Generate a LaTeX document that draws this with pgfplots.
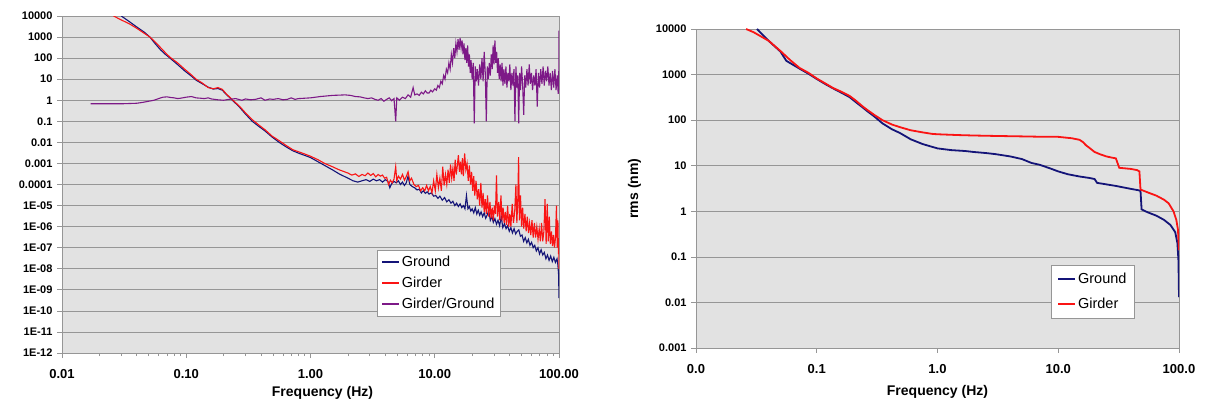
\documentclass[border=0pt]{standalone}
\usepackage{pgfplots}
\pgfplotsset{compat=1.18}
\usepackage{fontspec}
\setmainfont{Liberation Sans}
\definecolor{bgray}{RGB}{226,226,226}
\definecolor{gline}{RGB}{150,150,150}
\definecolor{navyc}{RGB}{20,20,120}
\definecolor{redc}{RGB}{250,20,20}
\definecolor{purc}{RGB}{125,25,135}
\begin{document}
\begin{tikzpicture}[x=1pt,y=1pt]
\useasboundingbox (0,0) rectangle (1205,-403);
%%%%%%%%%%%% LEFT
\begin{axis}[
  xmode=log, ymode=log, scale only axis,
  axis background/.style={fill=bgray},
  axis line style={gline, line width=0.8pt},
  ymajorgrids, grid style={gline, line width=0.7pt},
  tick align=outside, major tick length=5pt, minor tick length=3pt,
  xtick pos=left, ytick pos=left,
  tick style={gline, line width=0.7pt},
  xticklabel style={font=\bfseries\fontsize{13}{14}\selectfont, yshift=-8pt},
  yticklabel style={font=\bfseries\fontsize{11}{12}\selectfont, xshift=-1pt},
  xlabel style={font=\bfseries\fontsize{14}{15}\selectfont, yshift=-1pt, xshift=12pt},
  legend cell align=left,
  legend style={draw=gline, fill=white, font=\fontsize{14.5}{16}\selectfont, inner sep=4pt,
    at={(rel axis cs:0.634,0.306)}, anchor=north west, row sep=5pt},
  legend image post style={line width=1.5pt},
  at={(62pt,-16pt)}, anchor=north west, width=497pt, height=337pt,
  xmin=0.01, xmax=100, ymin=1e-12, ymax=1e4,
  xtick={0.01,0.1,1,10,100}, xticklabels={0.01,0.10,1.00,10.00,100.00},
  ytick={1e4,1e3,1e2,1e1,1,1e-1,1e-2,1e-3,1e-4,1e-5,1e-6,1e-7,1e-8,1e-9,1e-10,1e-11,1e-12},
  yticklabels={10000,1000,100,10,1,0.1,0.01,0.001,0.0001,1E-05,1E-06,1E-07,1E-08,1E-09,1E-10,1E-11,1E-12},
  yminorticks=false,
  xlabel={Frequency (Hz)},
]
\addplot[navyc, line width=1.1pt] coordinates {
(0.030,10000) (0.034,6000) (0.040,3000) (0.046,1700) (0.051,1000) (0.056,500) (0.062,250) (0.068,150) (0.074,100)
(0.085,50) (0.097,25) (0.11,14) (0.12,9) (0.135,6) (0.15,4.2) (0.165,3.4) (0.18,3.6) (0.195,3.0) (0.21,1.9)
(0.24,0.9) (0.27,0.45) (0.30,0.22) (0.34,0.1) (0.38,0.06) (0.43,0.035) (0.49,0.018) (0.56,0.01) (0.64,0.006)
(0.72,0.004) (0.81,0.003) (0.90,0.0024) (1.0,0.0019) (1.15,0.0012) (1.3,0.0008) (1.5,0.0005) (1.7,0.00032)
(2.0,2e-4) (2.2,1.5e-4) (2.4,1.3e-4) (2.6,1.5e-4) (2.8,1.7e-4) (3.0,1.4e-4) (3.2,1.8e-4) (3.4,1.5e-4) (3.6,1.7e-4)
(3.8,1.3e-4) (4.0,1.7e-4) (4.2,1.4e-4) (4.35,7e-5) (4.5,1.1e-4) (4.7,1.4e-4) (4.9,1.2e-4) (5.1,1.5e-4) (5.3,1e-4)
(5.5,1.3e-4) (5.7,9e-5) (5.9,1.2e-4) (6.1,2.5e-4) (6.3,1e-4) (6.6,8e-5) (6.9,7e-5) (7.2,5.5e-5) (7.5,6e-5)
(7.8,4e-5) (8.1,5e-5) (8.4,3.8e-5) (8.7,4.5e-5) (9.0,3.5e-5) (9.4,4e-5) (9.8,2.8e-5) (10.2,3e-5) (10.6,2.2e-5)
(11.0,2.8e-5) (11.5,1.8e-5) (12.0,2.4e-5) (12.5,1.5e-5) (13.0,1.9e-5) (13.5,1.3e-5) (14.0,1.6e-5) (14.5,1e-5)
(15.0,1.3e-5) (15.5,9e-6) (16.0,1.2e-5) (16.5,8e-6) (17.0,1e-5) (17.5,7e-6) (18.0,3e-5) (18.5,7e-6) (19.0,9e-6)
(19.5,5.5e-6) (20.0,7e-6) (20.6,4.5e-6) (21.2,8e-6) (21.8,4e-6) (22.4,6e-6) (23.0,3.5e-6) (23.6,5e-6) (24.3,3e-6)
(25.0,4.5e-6) (25.7,2.5e-6) (26.4,3.5e-6) (27.2,6e-6) (28.0,2e-6) (28.8,3e-6) (29.6,1.6e-6) (30.5,2.4e-6)
(31.4,1.3e-6) (32.3,2e-6) (33.3,1.1e-6) (34.3,3e-6) (35.3,9e-7) (36.4,1.4e-6) (37.5,8e-7) (38.6,1.1e-6)
(39.8,6e-7) (41.0,9e-7) (42.2,5e-7) (43.5,8e-7) (44.8,4.5e-7) (46.1,6e-7) (47.5,7e-7) (48.9,3.5e-7) (50.4,4e-7)
(51.9,2e-7) (53.5,3e-7) (55.1,1.7e-7) (56.7,2.5e-7) (58.4,1.3e-7) (60.2,1.8e-7) (62.0,1e-7) (63.8,1.3e-7)
(65.7,7e-8) (67.7,1e-7) (69.7,5e-8) (71.8,8e-8) (74.0,4.5e-8) (76.2,6e-8) (78.5,3e-8) (80.8,4.5e-8) (83.2,2.5e-8)
(85.7,4e-8) (88.3,2.2e-8) (90.9,3.5e-8) (93.6,2e-8) (96.4,3e-8) (98.0,1.5e-8) (99.3,5e-9) (100,4e-10)
};
\addlegendentry{Ground}
\addplot[redc, line width=1.1pt] coordinates {
(0.026,10000) (0.030,6500) (0.035,4200) (0.040,2600) (0.046,1500) (0.051,1000) (0.056,600) (0.062,320) (0.068,180)
(0.074,110) (0.085,60) (0.097,30) (0.11,16) (0.12,10) (0.135,6.5) (0.15,4.0) (0.165,3.5) (0.18,4.0) (0.195,3.3)
(0.21,2.0) (0.24,0.95) (0.27,0.5) (0.30,0.25) (0.34,0.12) (0.38,0.07) (0.43,0.04) (0.49,0.02) (0.56,0.012)
(0.64,0.007) (0.72,0.0045) (0.81,0.0035) (0.90,0.0028) (1.0,0.0022) (1.15,0.0015) (1.3,0.001) (1.5,0.0007)
(1.7,0.0005) (2.0,3.5e-4) (2.15,2.8e-4) (2.3,3.2e-4) (2.45,2.4e-4) (2.6,3e-4) (2.75,2.6e-4) (2.9,3.5e-4)
(3.05,2.7e-4) (3.2,3.3e-4) (3.35,2.3e-4) (3.5,3e-4) (3.65,2.5e-4) (3.8,2.8e-4) (3.95,2e-4) (4.1,2.2e-4)
(4.25,1e-4) (4.4,1.6e-4) (4.55,1.2e-4) (4.7,1.8e-4) (4.85,7e-4) (4.95,1.5e-4) (5.1,2.5e-4) (5.3,1.8e-4)
(5.5,3e-4) (5.7,1.6e-4) (5.9,2.4e-4) (6.1,4e-4) (6.3,1.5e-4) (6.5,2e-4) (6.8,1e-4) (7.1,8e-5) (7.4,9e-5)
(7.7,5e-5) (8.0,7e-5) (8.3,5e-5) (8.6,9e-5) (8.9,5e-5) (9.2,8e-5)
(9.5,4e-5) (9.8,1.5e-4) (10.1,5e-5) (10.4,3e-4) (10.7,7e-5) (11.0,2e-4) (11.3,5e-5) (11.6,7e-4) (11.9,9e-5)
(12.2,3e-4) (12.5,1e-4) (12.8,5e-4) (13.1,1.2e-4) (13.4,9e-4) (13.7,2e-4) (14.0,6e-4) (14.3,1.5e-4) (14.6,1.5e-3)
(14.9,3e-4) (15.2,8e-4) (15.5,2.5e-3) (15.8,4e-4) (16.1,1.2e-3) (16.4,3e-4) (16.7,1.8e-3) (17.0,2.5e-4)
(17.4,3e-3) (17.8,5e-4) (18.2,1e-3) (18.6,1.5e-4) (19.0,8e-4) (19.4,1e-4) (19.8,4e-4) (20.2,5e-5) (20.6,2.5e-4)
(21.0,3e-5) (21.5,1.5e-4) (22.0,2e-5) (22.5,6e-5) (23.0,1e-5) (23.5,1.2e-4) (24.0,8e-6) (24.5,4e-5) (25.0,5e-6)
(25.5,2e-5) (26.0,4e-6) (26.6,3e-5) (27.2,3e-6) (27.8,1.5e-5) (28.4,2.5e-6) (29.0,8e-6) (29.6,2e-6) (30.2,1e-5)
(30.8,4e-6) (31.4,2.7e-4) (32.0,3e-6) (32.7,1.5e-5) (33.4,2e-6) (34.1,3e-5) (34.8,2e-6) (35.5,8e-6) (36.2,1.5e-6)
(37.0,5e-6) (37.8,1.2e-6) (38.6,1e-5) (39.4,1e-6) (40.2,4e-6) (41.0,1e-6) (42.0,1.2e-5) (43.0,1.5e-6) (44.0,5e-6)
(45.0,1e-4) (45.8,1.5e-6) (46.6,2e-5) (47.3,2e-3) (48.0,2e-6) (49.0,3e-5) (50.0,1e-6) (51.0,8e-6) (52.0,8e-7)
(53.2,4e-6) (54.4,6e-7) (55.6,3e-6) (56.8,5e-7) (58.0,1.5e-6) (59.3,4e-7) (60.6,2e-6) (62.0,3e-7) (63.4,1.5e-6)
(64.8,3e-7) (66.3,1e-6) (67.8,2.5e-7) (69.3,8e-7) (70.8,2e-7) (72.4,1.5e-6) (74.0,2e-7) (75.6,6e-7) (77.2,2e-5)
(78.8,1.5e-7) (80.4,1.2e-5) (82.0,2e-7) (83.6,3e-6) (85.2,1.5e-7) (86.9,6e-7) (88.6,1.2e-7) (90.3,4e-7)
(92.0,1e-7) (93.7,3e-7) (95.4,1e-5) (96.8,1e-7) (98.0,2e-6) (99.0,5e-8) (99.6,1e-7) (100,1e-8)
};
\addlegendentry{Girder}
\addplot[purc, line width=1.1pt] coordinates {
(0.017,0.68) (0.02,0.68) (0.025,0.68) (0.03,0.68) (0.035,0.7) (0.04,0.72) (0.045,0.8) (0.05,0.9) (0.055,1.0)
(0.06,1.2) (0.065,1.4) (0.07,1.45) (0.075,1.35) (0.08,1.3) (0.085,1.2) (0.09,1.25) (0.1,1.4) (0.11,1.5) (0.12,1.3)
(0.13,1.25) (0.14,1.2) (0.15,1.3) (0.16,1.15) (0.18,1.05) (0.2,1.0) (0.22,1.1) (0.25,1.2) (0.28,1.0) (0.3,1.15)
(0.33,1.05) (0.36,1.1) (0.4,1.3) (0.43,1.0) (0.47,1.15) (0.5,1.1) (0.55,1.2) (0.6,1.05) (0.65,1.1) (0.7,1.3)
(0.75,1.1) (0.8,1.2) (0.9,1.25) (1.0,1.3) (1.1,1.4) (1.2,1.5) (1.35,1.6) (1.5,1.7) (1.7,1.75) (1.9,1.8)
(2.1,1.7) (2.3,1.5) (2.5,1.45) (2.7,1.3) (2.9,1.2) (3.1,1.3) (3.3,1.1) (3.5,1.0) (3.7,1.2) (3.9,0.9) (4.1,1.1)
(4.3,1.3) (4.5,0.95) (4.7,1.2) (4.85,0.1) (4.95,1.3) (5.2,1.0) (5.5,1.4) (5.8,1.2) (6.1,1.8) (6.4,1.4) (6.7,4)
(6.9,1.8) (7.2,2.0) (7.5,1.7) (7.8,2.4) (8.1,2.0) (8.4,2.8) (8.7,2.2)
(9.0,2.2) (9.3,3.0) (9.6,2.5) (10.0,3.5) (10.3,3.0) (10.6,5) (10.9,4) (11.2,8) (11.5,6) (11.8,15) (12.1,10)
(12.4,30) (12.7,20) (13.0,60) (13.3,30) (13.6,150) (13.9,60) (14.2,300) (14.5,100) (14.8,500) (15.1,200)
(15.4,800) (15.7,250) (16.0,900) (16.3,300) (16.6,700) (16.9,150) (17.2,500) (17.5,80) (17.8,300) (18.1,60)
(18.4,400) (18.7,40) (19.0,150) (19.3,20) (19.6,80) (20.0,10) (20.4,60) (20.8,0.08) (21.2,40) (21.6,8) (22.0,30)
(22.5,5) (23.0,50) (23.5,10) (24.0,100) (24.5,8) (25.0,200) (25.5,20) (26.0,0.1) (26.5,40) (27.0,10) (27.5,60)
(28.0,15) (28.5,150) (29.0,30) (29.5,400) (30.0,50) (30.5,700) (31.0,60) (31.5,200) (32.0,20) (32.5,100)
(33.0,10) (33.6,50) (34.2,8) (34.8,60) (35.4,5) (36.0,30) (36.7,6) (37.4,40) (38.1,4) (38.8,20) (39.5,8)
(40.2,50) (41.0,3) (41.8,20) (42.6,5) (43.4,30) (44.2,0.1) (45.0,40) (45.8,4) (46.6,15) (47.4,0.08) (48.2,20)
(49.0,3) (50.0,40) (51.0,5) (52.0,0.2) (53.0,15) (54.0,4) (55.2,30) (56.4,5) (57.6,50) (58.8,6) (60.0,20)
(61.3,3) (62.6,15) (64.0,5) (65.4,30) (66.8,0.5) (68.3,20) (69.8,4) (71.3,30) (72.9,6) (74.5,40) (76.1,5)
(77.8,25) (79.5,8) (81.3,40) (83.1,5) (84.9,20) (86.8,3) (88.7,25) (90.7,4) (92.7,30) (94.7,3) (96.8,15)
(98.5,2) (99.5,5) (100,2000)
};
\addlegendentry{Girder/Ground}
\end{axis}
%%%%%%%%%%%% RIGHT
\begin{axis}[
  xmode=log, ymode=log, scale only axis,
  axis background/.style={fill=bgray},
  axis line style={gline, line width=0.8pt},
  ymajorgrids, grid style={gline, line width=0.7pt},
  tick align=outside, major tick length=5pt, minor tick length=3pt,
  xtick pos=left, ytick pos=left,
  tick style={gline, line width=0.7pt},
  xticklabel style={font=\bfseries\fontsize{13}{14}\selectfont, yshift=-8pt},
  yticklabel style={font=\bfseries\fontsize{11}{12}\selectfont, xshift=-1pt},
  xlabel style={font=\bfseries\fontsize{14}{15}\selectfont, yshift=-5pt},
  ylabel style={font=\bfseries\fontsize{14}{15}\selectfont, yshift=8pt},
  legend cell align=left,
  legend style={draw=gline, fill=white, font=\fontsize{14.5}{16}\selectfont, inner sep=6pt,
    at={(rel axis cs:0.735,0.26)}, anchor=north west, row sep=9pt},
  at={(696pt,-29pt)}, anchor=north west, width=483pt, height=319pt,
  xmin=0.01, xmax=100, ymin=1e-3, ymax=1e4,
  xtick={0.01,0.1,1,10,100}, xticklabels={0.0,0.1,1.0,10.0,100.0},
  ytick={1e4,1e3,1e2,1e1,1,1e-1,1e-2,1e-3},
  yticklabels={10000,1000,100,10,1,0.1,0.01,0.001},
  xminorticks=false, yminorticks=false,
  xlabel={Frequency (Hz)},
  ylabel={rms (nm)},
]
\addplot[navyc, line width=1.8pt] coordinates {
(0.032,10000) (0.04,5500) (0.05,3200) (0.056,2000) (0.072,1350) (0.085,1050) (0.1,800) (0.12,600) (0.136,500)
(0.16,400) (0.187,320) (0.21,250) (0.24,190) (0.26,160) (0.3,120) (0.35,85) (0.42,63) (0.49,52) (0.6,38)
(0.75,30) (0.9,26) (1.0,24) (1.3,22) (1.7,21) (2.0,20) (2.5,19) (3.0,18) (4.0,16) (5.0,14) (6.0,11.5) (7.0,10.5)
(8.5,8.8) (10,7.5) (12,6.5) (15,5.8) (18,5.4) (20,5.1) (21,4.2) (25,3.9) (30,3.6) (40,3.1) (46,2.9) (48,2.8)
(49,1.1) (55,0.95) (65,0.8) (75,0.65) (85,0.5) (93,0.35) (97,0.2) (99,0.08) (100,0.013)
};
\addlegendentry{Ground}
\addplot[redc, line width=1.8pt] coordinates {
(0.026,10000) (0.03,8500) (0.04,5500) (0.05,3300) (0.06,2100) (0.072,1400) (0.085,1100) (0.1,820) (0.12,620)
(0.136,510) (0.16,420) (0.187,340) (0.21,270) (0.24,200) (0.26,170) (0.3,130) (0.35,100) (0.42,80) (0.49,70)
(0.6,60) (0.75,54) (0.9,50) (1.0,49) (1.5,47) (2.0,46) (3.0,45) (5.0,44) (8.0,43) (10,43) (13,40) (15,37)
(16,33) (17,28) (18,25) (20,20) (21,19) (22,18) (25,16) (28,15) (30,14.5) (32,9) (40,8.5) (45,8) (47,7.5) (48,3) (55,2.6)
(65,2.2) (75,1.8) (82,1.5) (90,1.0) (95,0.65) (98,0.4) (100,0.14)
};
\addlegendentry{Girder}
\end{axis}
\end{tikzpicture}
\end{document}
